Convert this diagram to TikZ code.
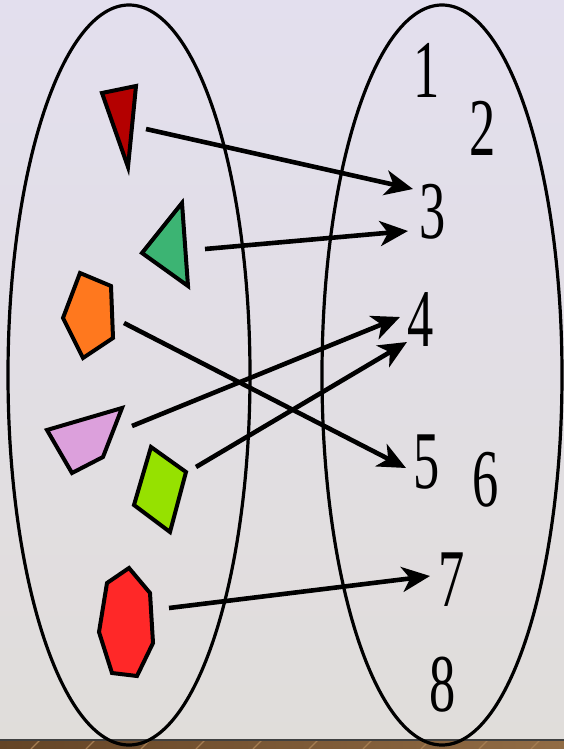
\documentclass[tikz,border=0pt]{standalone}
\usepackage{fontspec}
\newfontfamily\numfont[FakeStretch=0.64]{Liberation Serif}
\usetikzlibrary{arrows.meta}
\definecolor{bgtop}{RGB}{227,223,238}
\definecolor{bgbottom}{RGB}{224,221,218}
\definecolor{wooddark}{RGB}{100,68,38}
\definecolor{woodlight}{RGB}{165,125,82}
\definecolor{darkred}{RGB}{180,0,0}
\definecolor{seagreen}{RGB}{60,180,115}
\definecolor{pumpkin}{RGB}{255,120,30}
\definecolor{plum}{RGB}{220,160,220}
\definecolor{lime}{RGB}{150,225,0}
\definecolor{brightred}{RGB}{255,40,40}
\tikzset{
  setline/.style={
    draw,
    line width=3.2pt
  },
  piece/.style={
    draw,
    line width=4pt,
    line join=miter
  },
  numlabel/.style={
    font=\numfont\fontsize{82}{82}\selectfont,
    inner sep=0pt
  },
  every edge/.style={draw, -{Stealth[length=28pt,width=25pt,inset=8pt]}, line width=4.6pt}
}

\begin{document}
\begin{tikzpicture}[x=1pt,y=-1pt]
  \useasboundingbox (0,0) rectangle (564,749);
  % background and floor
  \shade[top color=bgtop, bottom color=bgbottom] (0,0) rectangle (564,740);
  \shade[left color=wooddark, right color=woodlight!70!wooddark] (0,740) rectangle (564,749);
  \foreach \x in {40,95,150,205,262,318,372,430,488,540}
    \draw[woodlight, line width=1.2pt] (\x,740) -- (\x-9,749);
  \draw[black!75, line width=1.5pt] (0,740) -- (564,740);

  % the two sets
  \draw[setline] (129,375) ellipse [x radius=121, y radius=370];
  \draw[setline] (442,375) ellipse [x radius=120, y radius=370];

  % codomain
  \node[numlabel] (n1) at (427,70) {1};
  \node[numlabel] (n2) at (483,128) {2};
  \node[numlabel] (n3) at (433,212) {3};
  \node[numlabel] (n4) at (421,320) {4};
  \node[numlabel] (n5) at (427,462) {5};
  \node[numlabel] (n6) at (486,480) {6};
  \node[numlabel] (n7) at (452,580) {7};
  \node[numlabel] (n8) at (443,685) {8};

  % arrow ends
  \coordinate (redtail) at (146,129);
  \coordinate (greentail) at (205,249);
  \coordinate (orangetail) at (124,323);
  \coordinate (plumtail) at (132,426);
  \coordinate (limetail) at (196,467);
  \coordinate (hepttail) at (169,608);
  \coordinate (tip3a) at (413,189);
  \coordinate (tip3b) at (408,231);
  \coordinate (tip4a) at (400,317);
  \coordinate (tip4b) at (407,342);
  \coordinate (tip5) at (406,468);
  \coordinate (tip7) at (430,576);

  \path (redtail) edge (tip3a)
        (greentail) edge (tip3b)
        (orangetail) edge (tip5)
        (plumtail) edge (tip4a)
        (limetail) edge (tip4b)
        (hepttail) edge (tip7);

  % domain
  \draw[piece, fill=darkred] (102,93) -- (136,86) -- (128,167) -- cycle;
  \draw[piece, fill=seagreen] (182,203) -- (188,286) -- (142,253) -- cycle;
  \draw[piece, fill=pumpkin] (80,273) -- (111,286) -- (113,338) -- (83,358) -- (63,318) -- cycle;
  \draw[piece, fill=plum] (47,430) -- (122,408) -- (103,457) -- (72,473) -- cycle;
  \draw[piece, fill=lime] (151,447) -- (186,472) -- (170,532) -- (134,505) -- cycle;
  \draw[piece, fill=brightred] (129,568) -- (150,593) -- (153,643) -- (137,676)
    -- (112,673) -- (99,632) -- (107,583) -- cycle;
\end{tikzpicture}
\end{document}
